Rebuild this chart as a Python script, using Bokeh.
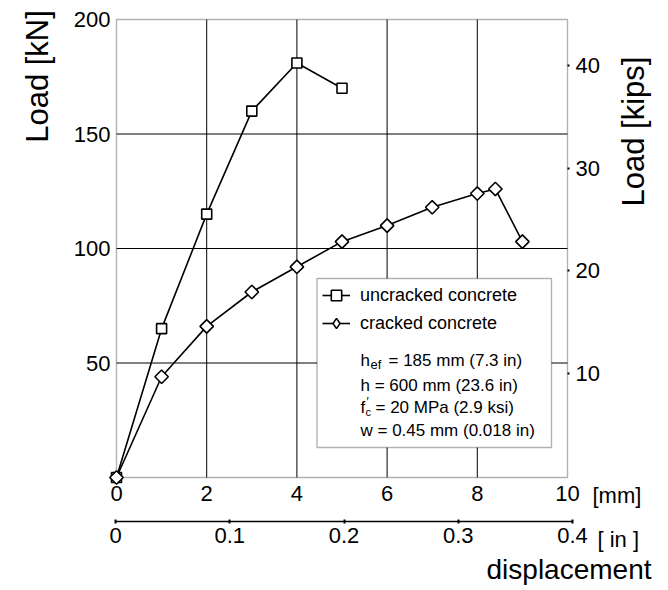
import math
from bokeh.plotting import figure
from bokeh.models import (Range1d, LinearAxis, FixedTicker, Legend, LegendItem,
                          Label, BoxAnnotation)
from bokeh.embed import file_html
from bokeh.resources import INLINE

# ---------------- data ----------------
disp_uncracked_mm = [0, 1, 2, 3, 4, 5]
load_uncracked_kN = [0, 65, 115, 160, 181, 170]
disp_cracked_mm = [0, 1, 2, 3, 4, 5, 6, 7, 8, 8.4, 9]
load_cracked_kN = [0, 44, 66, 81, 92, 103, 110, 118, 124, 126, 103]

mm_limits = [0, 10]
kN_limits = [0, 200]
mm_ticks = [0, 2, 4, 6, 8, 10]
mm_grid = [2, 4, 6, 8]
kN_ticks = [50, 100, 150, 200]
kN_grid = [50, 100, 150]
kips_ticks = [10, 20, 30, 40]
inch_ticks = [0, 0.1, 0.2, 0.3, 0.4]
inch_labels = ["0", "0.1", "0.2", "0.3", "0.4"]

series_names = ["uncracked concrete", "cracked concrete"]
param_h = "h = 600 mm (23.6 in)"
param_w = "w = 0.45 mm (0.018 in)"
param_hef = ["h", "ef", "= 185 mm (7.3 in)"]
param_fc = ["f", "c", "\u2032", "= 20 MPa (2.9 ksi)"]

FONT = "Liberation Sans"
INK = "black"

# ---------------- pixel geometry (layout only) ----------------
W, H = 664, 588
X0_PX, MM_PX = 116, 45.1        # x pixel of 0 mm, pixels per mm
Y0_PX, KN_PX = 477, 2.29        # y pixel of 0 kN, pixels per kN
KIPS0_PX, KIPS_PX = 475.7, 10.27
IN0_PX, IN_PX = 115, 1142.5

def mx(px): return (px - X0_PX) / MM_PX
def ky(py): return (Y0_PX - py) / KN_PX
def kp(py): return (KIPS0_PX - py) / KIPS_PX
def ix(px): return (px - IN0_PX) / IN_PX

p = figure(width=W, height=H,
           x_range=Range1d(mx(0), mx(W)), y_range=Range1d(ky(H), ky(0)),
           x_axis_location=None, y_axis_location=None,
           output_backend="svg", toolbar_location=None,
           min_border=0, min_border_left=0, min_border_right=0,
           min_border_top=0, min_border_bottom=0,
           background_fill_color="white", border_fill_color="white",
           outline_line_color=None)
for g in p.grid:
    g.visible = False

p.extra_y_ranges = {"kips": Range1d(kp(H), kp(0))}
p.extra_x_ranges = {"in": Range1d(ix(0), ix(W))}

def style_axis(ax, size="22px", standoff=6, tick_out=0, tick_in=0, line=False):
    ax.axis_line_color = INK if line else None
    ax.axis_line_width = 1.4
    ax.major_tick_out = tick_out
    ax.major_tick_in = tick_in
    ax.major_tick_line_color = INK
    ax.major_tick_line_width = 2
    ax.minor_tick_line_color = None
    ax.major_label_text_font = FONT
    ax.major_label_text_font_size = size
    ax.major_label_text_color = INK
    ax.major_label_standoff = standoff

# grid lines (under the data)
p.segment(x0=mm_grid, y0=[kN_limits[0]] * len(mm_grid), x1=mm_grid, y1=[kN_limits[1]] * len(mm_grid),
          line_color=INK, line_width=1)
p.segment(x0=[mm_limits[0]] * len(kN_grid), y0=kN_grid, x1=[mm_limits[1]] * len(kN_grid), y1=kN_grid,
          line_color=INK, line_width=1)

# plot frame
p.add_layout(BoxAnnotation(left=mm_limits[0], right=mm_limits[1], bottom=kN_limits[0], top=kN_limits[1],
                           fill_alpha=0, line_color=INK, line_width=1.4, level="underlay"))

# axes
ax_mm = LinearAxis(fixed_location=kN_limits[0], bounds=tuple(mm_limits), ticker=FixedTicker(ticks=mm_ticks))
style_axis(ax_mm, standoff=8)
p.add_layout(ax_mm, "below")

ax_kN = LinearAxis(fixed_location=mm_limits[0], bounds=tuple(kN_limits), ticker=FixedTicker(ticks=kN_ticks))
style_axis(ax_kN, standoff=6)
p.add_layout(ax_kN, "left")

ax_kips = LinearAxis(y_range_name="kips", fixed_location=mm_limits[1],
                     bounds=(kp(Y0_PX), kp(Y0_PX - kN_limits[1] * KN_PX)),
                     ticker=FixedTicker(ticks=kips_ticks))
style_axis(ax_kips, standoff=6, tick_out=2)
p.add_layout(ax_kips, "right")

ax_in = LinearAxis(x_range_name="in", fixed_location=ky(521), bounds=(inch_ticks[0], inch_ticks[-1]),
                   ticker=FixedTicker(ticks=inch_ticks))
ax_in.major_label_overrides = dict(zip(inch_ticks, inch_labels))
style_axis(ax_in, standoff=4, tick_out=2, tick_in=2, line=True)
p.add_layout(ax_in, "below")

# data
r1 = p.line(disp_uncracked_mm, load_uncracked_kN, line_color=INK, line_width=1.6)
s1 = p.scatter(disp_uncracked_mm, load_uncracked_kN, marker="square", size=10,
               fill_color="white", line_color=INK, line_width=1.6)
r2 = p.line(disp_cracked_mm, load_cracked_kN, line_color=INK, line_width=1.6)
s2 = p.scatter(disp_cracked_mm, load_cracked_kN, marker="square", angle=math.pi / 4, size=9.5,
               fill_color="white", line_color=INK, line_width=1.6)
# legend icon for the diamonds (not drawn in the plot)
s2_key = p.scatter(disp_cracked_mm, load_cracked_kN, marker="diamond", size=14,
                   fill_color="white", line_color=INK, line_width=1.5, visible=False)

# legend frame
p.add_layout(BoxAnnotation(left=mx(316.5), right=mx(551), bottom=ky(447), top=ky(278),
                           fill_color="white", fill_alpha=1, line_color=INK, line_width=1.4))

legend = Legend(items=[LegendItem(label=series_names[0], renderers=[r1, s1]),
                       LegendItem(label=series_names[1], renderers=[r2, s2_key])],
                location=(322, H - 336), orientation="vertical",
                glyph_width=28, glyph_height=26, label_height=26, label_standoff=10,
                spacing=2, padding=0, margin=0,
                border_line_alpha=0, background_fill_alpha=0,
                label_text_font=FONT, label_text_font_size="18px", label_text_color=INK)
p.add_layout(legend, "center")

def lab(x, y, text, size, align="left", baseline="middle", angle=0.0, **kw):
    p.add_layout(Label(x=x, y=y, text=text, text_font=FONT, text_font_size=size,
                       text_color=INK, text_align=align, text_baseline=baseline,
                       angle=angle, **kw))

# parameter block
lab(mx(360), ky(360), param_hef[0], "17px")
lab(mx(370), ky(364), param_hef[1], "13px")
lab(mx(388), ky(360), param_hef[2], "17px")
lab(mx(360), ky(385), param_h, "17px")
lab(mx(360), ky(407), param_fc[0], "17px")
lab(mx(365), ky(411), param_fc[1], "11px")
lab(mx(366), ky(401), param_fc[2], "12px")
lab(mx(375), ky(407), param_fc[3], "17px")
lab(mx(360), ky(430), param_w, "17px")

# axis titles and unit labels
lab(mx(37), ky(76), "Load [kN]", "31px", align="center", angle=math.pi / 2)
lab(mx(633), ky(131), "Load [kips]", "31px", align="center", angle=math.pi / 2)
lab(mx(592), ky(495), "[mm]", "22px")
lab(ix(597), ky(539), "[ in ]", "22px", x_range_name="in")
lab(ix(651), ky(569), "displacement", "28px", align="right", baseline="middle", x_range_name="in")

open("out.html", "w").write(file_html(p, INLINE))
